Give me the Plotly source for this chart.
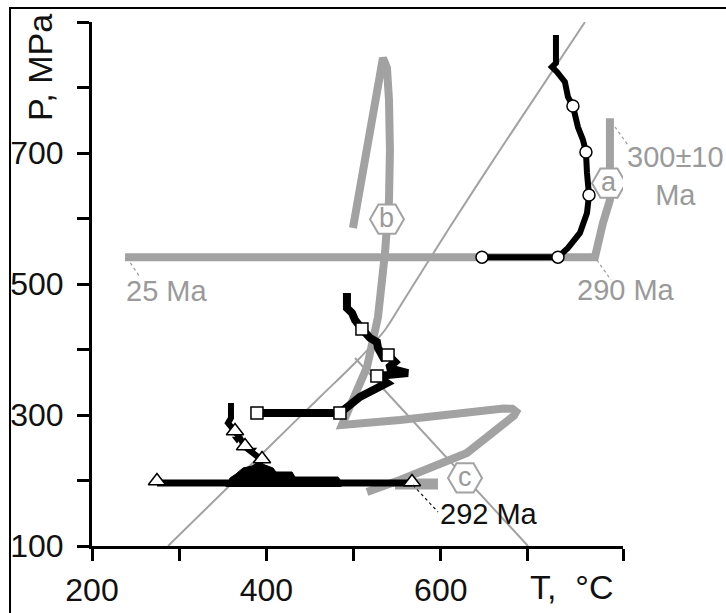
import plotly.graph_objects as go

GRAY = "#a2a2a2"
TXT_GRAY = "#9a9a9a"
FONT = "Liberation Sans, Arial, sans-serif"

# ---- axes ----
T_MIN, T_MAX = 200, 809
P_MIN, P_MAX = 100, 900
X_TICKS = [200, 300, 400, 500, 600, 700, 809]
X_TICK_TEXT = ["200", "", "400", "", "600", "", ""]
Y_TICKS = [100, 200, 300, 400, 500, 600, 700, 800, 900]
Y_TICK_TEXT = ["100", "", "300", "", "500", "", "700", "", ""]

# ---- thin reference lines ----
GEO_T = [287.2, 399.5, 461.5, 505.0, 536.0, 557.8, 610.5, 667.9, 765.4]
GEO_P = [100, 246.6, 327.5, 384, 429.8, 475.6, 587.0, 704.6, 900]
LINE3_T = [501.6, 700]
LINE3_P = [387, 100]

# ---- thick gray paths ----
PATH_A_T = [237.8, 776.8, 786.0, 794.0, 794.0]
PATH_A_P = [541, 541, 593, 628, 753]
PATH_B_T = [499.3, 509.6, 518.8, 525.7, 530.3, 533.7, 538.3, 540.6, 541.7, 540.6,
            536.0, 528.0, 515.4, 495.9, 486.7, 553.2, 630.0, 672.0, 682.0, 686.5,
            684.0, 676.0, 630.0, 553.2, 515.4]
PATH_B_P = [585.5, 658.8, 727.5, 780.9, 819.1, 845.0, 829.8, 780.9, 704.6, 628.2,
            547.3, 449.6, 373.3, 312.2, 284.7, 292.4, 304.6, 309.8, 309.5, 305.0,
            299.0, 290.0, 242.0, 200.8, 182.4]
BAR_C_T = [547.5, 596.8]
BAR_C_P = [194.7, 194.7]

HEX_T = [792.9, 538.3, 627.8]
HEX_P = [654, 599, 204]
HEX_LABEL = ["a", "b", "c"]

# ---- black path a (circles) ----
BLK_A_T = [732.1, 732.1, 727.5, 733.3, 742.4, 745.9, 751.6, 757.3, 763.1, 766.5,
           767.7, 770.0, 767.7, 759.6, 745.9, 734.4, 647.3]
BLK_A_P = [880.1, 837.4, 831.3, 823.7, 808.4, 785.5, 771.7, 739.7, 719.8, 701.5,
           669.5, 635.9, 608.4, 577.9, 555.0, 541, 541]
CIRC_T = [751.6, 766.5, 770.0, 734.4, 647.3]
CIRC_P = [771.7, 701.5, 635.9, 541, 541]

# ---- black path b (squares) ----
BLK_B_T = [492.4, 492.4, 498.2, 501.6, 509.6, 518.8, 526.8, 528.0, 533.7, 539.5,
           547.5, 539.5, 562.4, 526.8, 538.3, 522.3, 507.3, 495.9, 484.4, 389.2]
BLK_B_P = [486.3, 463.4, 455.7, 445.0, 431.3, 417.6, 411.4, 402.3, 388.5, 391.6,
           380.9, 371.8, 364.1, 359.5, 348.8, 338.2, 327.5, 315.3, 303.1, 303.1]
SQ_T = [509.6, 539.5, 526.8, 484.4, 389.2]
SQ_P = [431.3, 391.6, 359.5, 303.1, 303.1]

# ---- black path c (triangles) ----
BLK_C_T = [359.4, 359.4, 356.0, 364.0, 369.7, 375.5, 383.5, 395.0, 390.4]
BLK_C_P = [318.3, 295.4, 287.8, 274.0, 264.9, 251.1, 242.0, 231.3, 222.1]
BLK_C_H_T = [274.5, 567.0]
BLK_C_H_P = [196.2, 196.2]
BAND_T = [353.7, 358.3, 365.1, 373.2, 383.5, 390.4, 398.4, 407.6, 411.0, 429.4,
          432.8, 482.1, 485.5, 485.5]
BAND_P = [190.1, 203.8, 209.9, 219.1, 222.1, 228.2, 223.7, 219.1, 213.0, 213.0,
          205.3, 205.3, 199.2, 190.1]
TRI_T = [274.5, 364.0, 375.5, 395.0, 567.0]
TRI_P = [199.2, 275.6, 252.7, 232.8, 197.7]
DOWN_T = [366.3, 383.5]
DOWN_P = [263.4, 246.6]

# ---- labels ----
LBL_TEXT = ["25 Ma", "290 Ma", "300±10<br>Ma", "292 Ma"]
LBL_T = [284.9, 812.4, 869.7, 596.8]
LBL_P = [489.3, 490.8, 664.9, 148.9]
LBL_COLOR = [TXT_GRAY, TXT_GRAY, TXT_GRAY, "#111111"]
LBL_ANCHOR = ["center", "center", "center", "left"]
LEADERS = [  # (T0, P0, T1, P1, color)
    (240.1, 539.7, 255.0, 510.7, TXT_GRAY),
    (779.1, 536.6, 795.2, 506.1, TXT_GRAY),
    (799.8, 739.7, 814.7, 712.2, TXT_GRAY),
    (568.1, 193.1, 596.8, 151.9, "#111111"),
]


def xp(t):
    return (t - T_MIN) / (T_MAX - T_MIN)


def yp(p):
    return (p - P_MIN) / (P_MAX - P_MIN)


fig = go.Figure()

fig.add_trace(go.Scatter(x=GEO_T, y=GEO_P, mode="lines",
                         line=dict(color=GRAY, width=2, shape="spline", smoothing=0.8)))
fig.add_trace(go.Scatter(x=LINE3_T, y=LINE3_P, mode="lines", line=dict(color=GRAY, width=2)))
fig.add_trace(go.Scatter(x=PATH_A_T, y=PATH_A_P, mode="lines", line=dict(color=GRAY, width=8)))
fig.add_trace(go.Scatter(x=PATH_B_T, y=PATH_B_P, mode="lines", line=dict(color=GRAY, width=8)))
fig.add_trace(go.Scatter(x=BAR_C_T, y=BAR_C_P, mode="lines", line=dict(color=GRAY, width=11)))
fig.add_trace(go.Scatter(x=HEX_T, y=HEX_P, mode="markers",
                         marker=dict(symbol="hexagon2", size=34, color="white",
                                     line=dict(color=GRAY, width=2))))
for t, p, s in zip(HEX_T, HEX_P, HEX_LABEL):
    fig.add_annotation(x=xp(t), y=yp(p), xref="paper", yref="paper", text=s,
                       showarrow=False, xanchor="center", yanchor="middle",
                       yshift=1, font=dict(family=FONT, size=27, color=TXT_GRAY))

fig.add_trace(go.Scatter(x=BAND_T, y=BAND_P, mode="lines", fill="toself",
                         fillcolor="black", line=dict(color="black", width=1)))
fig.add_trace(go.Scatter(x=BLK_C_T, y=BLK_C_P, mode="lines", line=dict(color="black", width=6)))
fig.add_trace(go.Scatter(x=BLK_C_H_T, y=BLK_C_H_P, mode="lines", line=dict(color="black", width=7)))
fig.add_trace(go.Scatter(x=BLK_A_T, y=BLK_A_P, mode="lines", line=dict(color="black", width=6)))
fig.add_trace(go.Scatter(x=BLK_B_T, y=BLK_B_P, mode="lines", line=dict(color="black", width=8)))

fig.add_trace(go.Scatter(x=DOWN_T, y=DOWN_P, mode="markers",
                         marker=dict(symbol="triangle-down", size=9, color="black")))
fig.add_trace(go.Scatter(x=CIRC_T, y=CIRC_P, mode="markers",
                         marker=dict(symbol="circle", size=12, color="white",
                                     line=dict(color="black", width=1.5))))
fig.add_trace(go.Scatter(x=SQ_T, y=SQ_P, mode="markers",
                         marker=dict(symbol="square", size=12, color="white",
                                     line=dict(color="black", width=1.5))))
fig.add_trace(go.Scatter(x=TRI_T, y=TRI_P, mode="markers",
                         marker=dict(symbol="triangle-up", size=15, color="white",
                                     line=dict(color="black", width=1.5))))

for t0, p0, t1, p1, c in LEADERS:
    fig.add_shape(type="line", xref="paper", yref="paper",
                  x0=xp(t0), y0=yp(p0), x1=xp(t1), y1=yp(p1),
                  line=dict(color=c, width=1.2, dash="dot"))

for txt, t, p, c, a in zip(LBL_TEXT, LBL_T, LBL_P, LBL_COLOR, LBL_ANCHOR):
    fig.add_annotation(x=xp(t), y=yp(p), xref="paper", yref="paper", text=txt,
                       showarrow=False, xanchor=a, yanchor="middle", align="center",
                       font=dict(family=FONT, size=29, color=c))

fig.add_annotation(x=-0.098, y=0.914, xref="paper", yref="paper", text="P, MPa",
                   textangle=-90, showarrow=False, xanchor="center", yanchor="middle",
                   font=dict(family=FONT, size=34, color="#111111"))
fig.add_annotation(x=0.904, y=-0.078, xref="paper", yref="paper", text="T,  °C",
                   showarrow=False, xanchor="center", yanchor="middle",
                   font=dict(family=FONT, size=34, color="#111111"))

# frame (top/left visible)
fig.add_shape(type="rect", xref="paper", yref="paper", x0=-0.1544, y0=-0.6,
              x1=1.6, y1=1.0267, line=dict(color="black", width=2), layer="below")

fig.update_layout(
    width=726, height=613,
    margin=dict(l=92, r=103, t=22, b=67, autoexpand=False),
    paper_bgcolor="white", plot_bgcolor="white",
    showlegend=False,
    font=dict(family=FONT, size=32, color="#111111"),
    xaxis=dict(range=[T_MIN, T_MAX], tickvals=X_TICKS, ticktext=X_TICK_TEXT,
               showgrid=False, zeroline=False, showline=True, linecolor="black",
               linewidth=3, ticks="outside", ticklen=12, tickwidth=3,
               tickcolor="black", ticklabelstandoff=2, automargin=False),
    yaxis=dict(range=[P_MIN, P_MAX], tickvals=Y_TICKS, ticktext=Y_TICK_TEXT,
               showgrid=False, zeroline=False, showline=True, linecolor="black",
               linewidth=3, ticks="outside", ticklen=12, tickwidth=3,
               tickcolor="black", ticklabelstandoff=7, automargin=False),
)

fig.write_html("out.html")
